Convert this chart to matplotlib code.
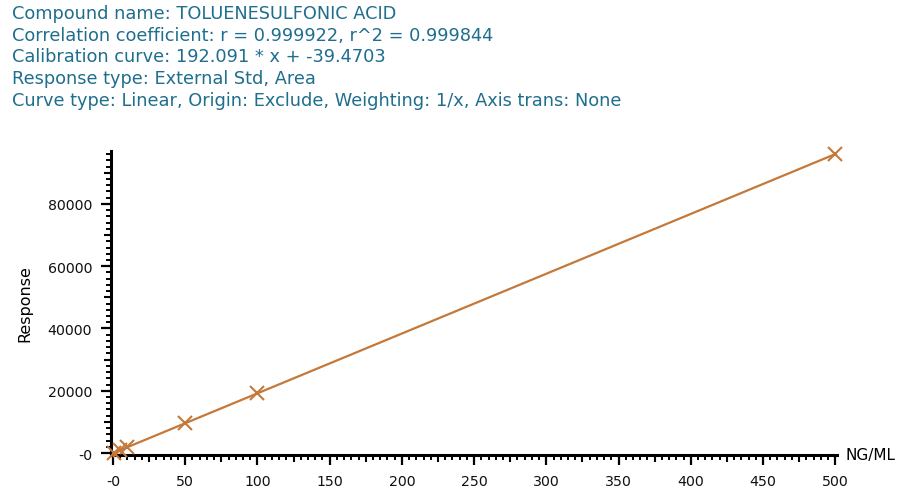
import matplotlib
matplotlib.use("Agg")
import matplotlib.pyplot as plt
from matplotlib.ticker import MultipleLocator, FixedLocator, FixedFormatter
import numpy as np

# ---- data ----
conc = [1, 5, 10, 50, 100, 500]
slope = 192.091
intercept = -39.4703
response = [152.6, 921.0, 1881.4, 9565.1, 19169.6, 96006.0]

header_lines = [
    "Compound name: TOLUENESULFONIC ACID",
    "Correlation coefficient: r = 0.999922, r^2 = 0.999844",
    "Calibration curve: 192.091 * x + -39.4703",
    "Response type: External Std, Area",
    "Curve type: Linear, Origin: Exclude, Weighting: 1/x, Axis trans: None",
]
x_ticks = [0, 50, 100, 150, 200, 250, 300, 350, 400, 450, 500]
x_ticklabels = ["-0", "50", "100", "150", "200", "250", "300", "350", "400", "450", "500"]
y_ticks = [0, 20000, 40000, 60000, 80000]
y_ticklabels = ["-0", "20000", "40000", "60000", "80000"]

line_color = "#c4783a"
text_color = "#1f6e8e"

W, H = 915, 489
fig = plt.figure(figsize=(W / 100, H / 100), dpi=100)
ax = fig.add_axes([111 / W, 1 - 456 / H, (837 - 111) / W, (456 - 152) / H])

ax.set_xlim(-1.4, 501.2)
ax.set_ylim(-640, 97000)

# fitted line
xf = np.array([0, 500])
ax.plot(xf, slope * xf + intercept, color=line_color, lw=1.6, zorder=2)
ax.plot(conc, response, linestyle="none", marker="x", markersize=10,
        markeredgewidth=1.5, color=line_color, zorder=3, clip_on=False)

for s in ["top", "right"]:
    ax.spines[s].set_visible(False)
for s in ["left", "bottom"]:
    ax.spines[s].set_linewidth(2.2)
    ax.spines[s].set_color("black")

ax.xaxis.set_major_locator(FixedLocator(x_ticks))
ax.xaxis.set_major_formatter(FixedFormatter(x_ticklabels))
ax.xaxis.set_minor_locator(MultipleLocator(5))
ax.yaxis.set_major_locator(FixedLocator(y_ticks))
ax.yaxis.set_major_formatter(FixedFormatter(y_ticklabels))
ax.yaxis.set_minor_locator(MultipleLocator(2000))

ax.tick_params(which="major", direction="out", length=7, width=1.6,
               labelsize=10.2, color="black", labelcolor="#111111")
ax.tick_params(axis="x", which="major", pad=7)
ax.tick_params(axis="y", which="major", pad=6.5)
ax.tick_params(which="minor", direction="out", length=3.5, width=1.4, color="black")

# medium ticks
secx = ax.secondary_xaxis("bottom")
secx.set_xticks(np.arange(25, 500, 50))
secx.set_xticklabels([])
secx.tick_params(direction="out", length=5, width=1.5)
secx.spines["bottom"].set_visible(False)
secy = ax.secondary_yaxis("left")
secy.set_yticks(np.arange(10000, 97000, 20000))
secy.set_yticklabels([])
secy.tick_params(direction="out", length=5, width=1.5)
secy.spines["left"].set_visible(False)

ax.set_ylabel("Response", fontsize=11.5, labelpad=11)
ax.text(1.012, 0.0, "NG/ML", transform=ax.transAxes, fontsize=11,
        ha="left", va="center")

for i, t in enumerate(header_lines):
    fig.text(12 / W, 1 - (14 + i * 21.7) / H, t, color=text_color,
             fontsize=12.75, ha="left", va="center")

fig.savefig("out.png", dpi=100)
